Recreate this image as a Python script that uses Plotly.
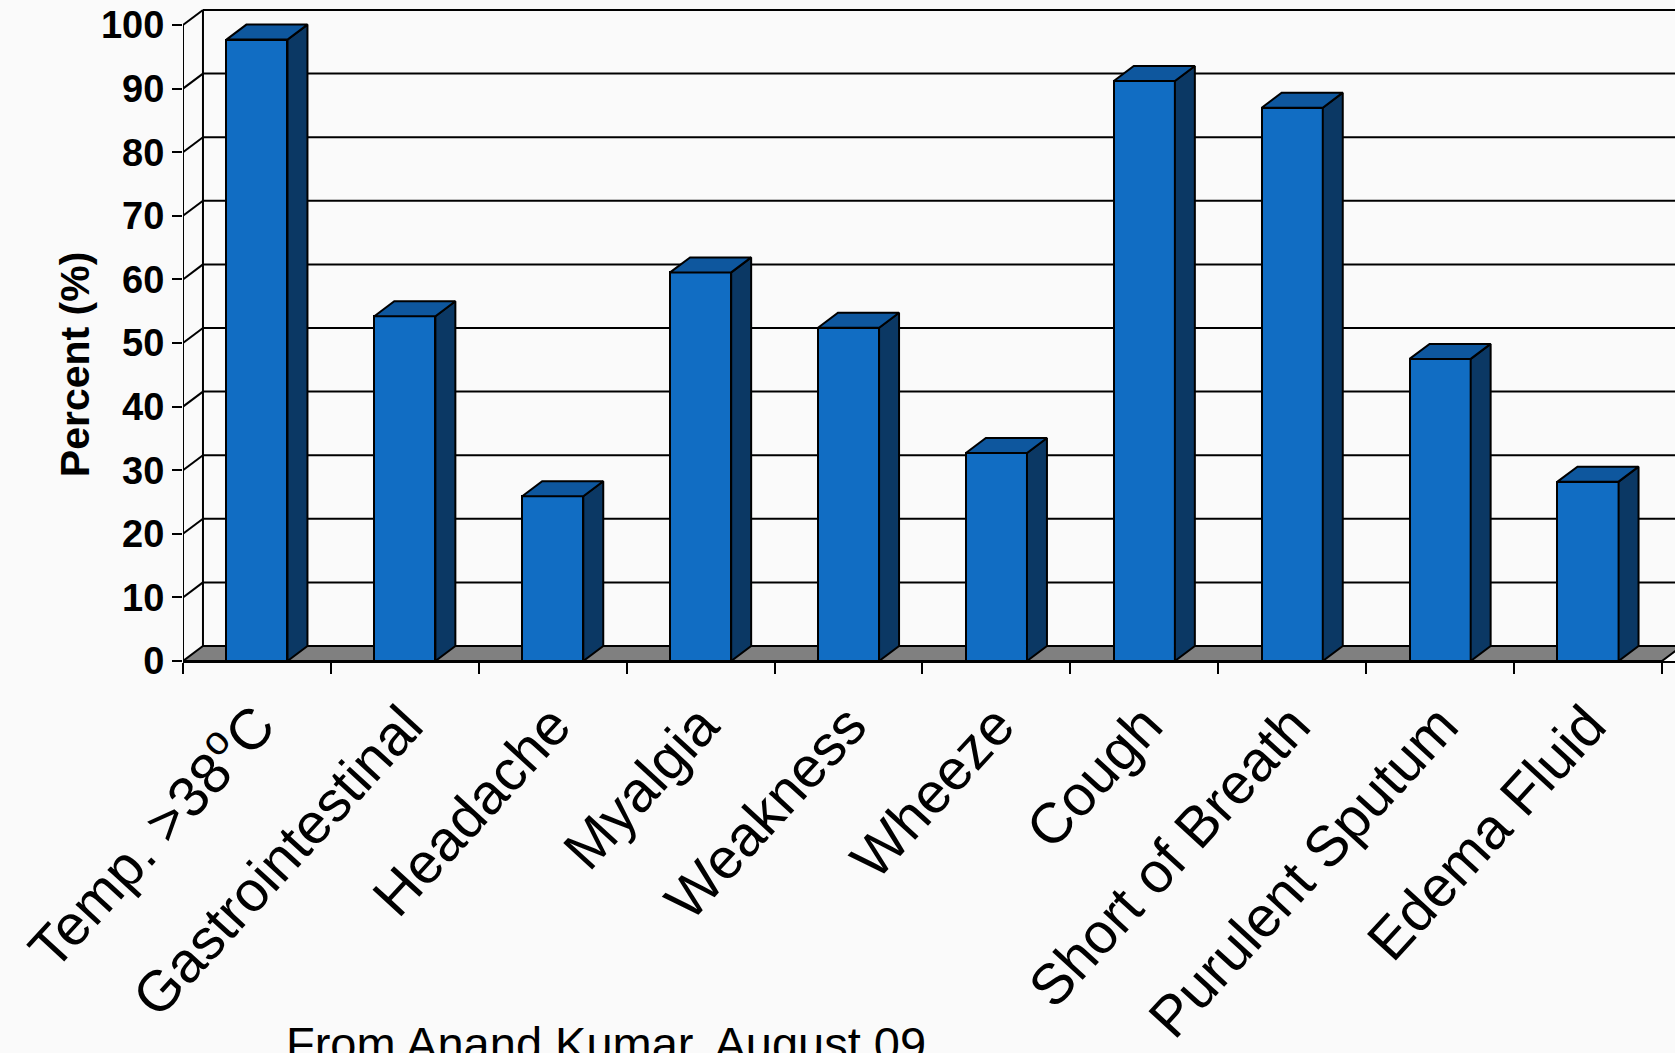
import plotly.graph_objects as go

# Symptom frequencies (percent of patients)
categories = ["Temp. >38<sup>o</sup>C", "Gastrointestinal", "Headache", "Myalgia",
              "Weakness", "Wheeze", "Cough", "Short of Breath",
              "Purulent Sputum", "Edema Fluid"]
percent = [97.7, 54.2, 25.9, 61.1, 52.4, 32.7, 91.2, 87.0, 47.5, 28.2]
y_ticks = [0, 10, 20, 30, 40, 50, 60, 70, 80, 90, 100]

# pseudo-3D geometry (in axis units)
BAR_W = 0.413      # width of the front face
DX = 0.135         # depth shift to the right
DY = 2.36          # depth shift upward
X_LO, X_HI = -0.5, len(categories) - 0.5

FRONT = "#116DC3"
SIDE = "#0B3864"
TOP = "#0E579E"
FLOOR = "#808080"
FONT = "Arial, Liberation Sans, sans-serif"

fig = go.Figure()

# front faces of the columns
fig.add_trace(go.Bar(
    x=list(range(len(categories))), y=percent, width=BAR_W,
    marker=dict(color=FRONT, line=dict(color="black", width=2)),
    showlegend=False, hoverinfo="skip",
))

# side and top faces give the columns depth
for i, v in enumerate(percent):
    x0, x1 = i - BAR_W / 2, i + BAR_W / 2
    fig.add_trace(go.Scatter(
        x=[x1, x1 + DX, x1 + DX, x1, x1], y=[0, DY, v + DY, v, 0],
        mode="lines", fill="toself", fillcolor=SIDE,
        line=dict(color="black", width=2), showlegend=False, hoverinfo="skip",
    ))
    fig.add_trace(go.Scatter(
        x=[x0, x0 + DX, x1 + DX, x1, x0], y=[v, v + DY, v + DY, v, v],
        mode="lines", fill="toself", fillcolor=TOP,
        line=dict(color="black", width=2), showlegend=False, hoverinfo="skip",
    ))

# back wall, floor and depth ticks drawn beneath the columns
shapes = []
for t in y_ticks[1:]:
    shapes.append(dict(type="line", xref="x", yref="y", layer="below",
                       x0=X_LO + DX, x1=X_HI + DX + 1, y0=t + DY, y1=t + DY,
                       line=dict(color="black", width=2)))
    shapes.append(dict(type="line", xref="x", yref="y", layer="below",
                       x0=X_LO, x1=X_LO + DX, y0=t, y1=t + DY,
                       line=dict(color="black", width=2)))
shapes.append(dict(type="line", xref="x", yref="y", layer="below",
                   x0=X_LO + DX, x1=X_LO + DX, y0=DY, y1=y_ticks[-1] + DY,
                   line=dict(color="black", width=2)))
shapes.append(dict(type="path", xref="x", yref="y", layer="below",
                   path=f"M {X_LO},0 L {X_HI},0 L {X_HI + DX},{DY} L {X_LO + DX},{DY} Z",
                   fillcolor=FLOOR, line=dict(color="black", width=2)))
shapes.append(dict(type="line", xref="x", yref="y", layer="below",
                   x0=X_LO, x1=X_LO, y0=0, y1=y_ticks[-1],
                   line=dict(color="black", width=2)))

fig.update_layout(
    width=1675, height=1053,
    margin=dict(l=183, r=0, t=0, b=392, autoexpand=False),
    paper_bgcolor="#FAFAFA", plot_bgcolor="rgba(0,0,0,0)",
    shapes=shapes,
    showlegend=False,
    bargap=0,
    annotations=[
        dict(text="<b>Percent (%)</b>", textangle=-90, xref="paper", yref="paper",
             x=-0.0724, y=0.449, xanchor="center", yanchor="middle", showarrow=False,
             font=dict(family=FONT, size=41, color="black")),
        dict(text="From Anand Kumar, August 09", xref="paper", yref="paper",
             x=0.2835, y=-0.536, xanchor="center", yanchor="top", showarrow=False,
             font=dict(family=FONT, size=47, color="black")),
    ],
)

fig.update_xaxes(
    range=[X_LO, 9.588], tickmode="array",
    tickvals=list(range(len(categories))), ticktext=categories,
    tickangle=-47.5, ticks="", showgrid=False, zeroline=False,
    showline=True, linecolor="black", linewidth=2,
    tickfont=dict(family=FONT, size=57, color="black"),
    ticklabelstandoff=6, automargin=False,
    minor=dict(tickmode="array", tickvals=[k - 0.5 for k in range(len(categories) + 1)],
               ticks="outside", ticklen=11, tickwidth=2, tickcolor="black", showgrid=False),
)
fig.update_yaxes(
    range=[0, 103.93], tickmode="array", tickvals=y_ticks,
    ticks="outside", ticklen=10, tickwidth=2, tickcolor="black",
    showgrid=False, zeroline=False, showline=False, automargin=False,
    tickfont=dict(family=FONT, size=38, color="black", weight="bold"),
)

fig.write_html("out.html")
